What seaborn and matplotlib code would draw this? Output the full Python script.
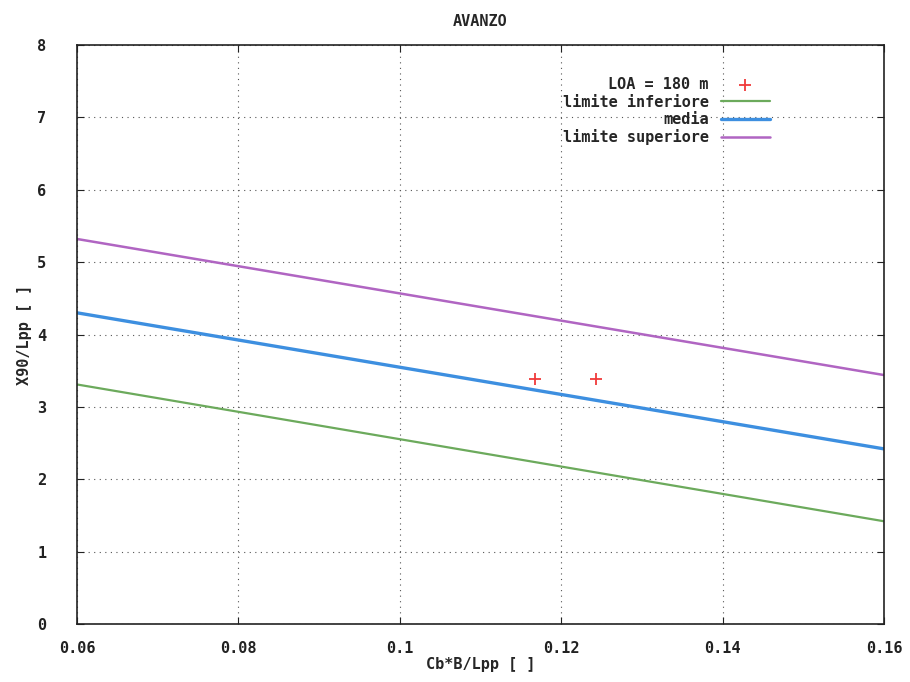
import matplotlib
matplotlib.use("Agg")
import matplotlib.pyplot as plt
import seaborn as sns
import pandas as pd

# dati
x_limiti = [0.06, 0.16]
limite_inferiore = [3.31, 1.42]
media = [4.30, 2.42]
limite_superiore = [5.32, 3.44]

loa_x = [0.1168, 0.1243]
loa_y = [3.38, 3.38]

sns.set_style("white")
plt.rcParams["font.family"] = ["DejaVu Sans Mono", "DejaVu Sans"]
plt.rcParams["font.weight"] = "bold"

fig = plt.figure(figsize=(9.1, 6.82), dpi=100)
ax = fig.add_axes([0.0846, 0.085, 0.8868, 0.849])

df_loa = pd.DataFrame({"x": loa_x, "y": loa_y})
sns.scatterplot(data=df_loa, x="x", y="y", marker="+", s=70, color="#f03a3a",
                linewidth=1.3, label="LOA = 180 m", ax=ax, zorder=5)

linee = [
    ("limite inferiore", limite_inferiore, "#6caa5c", 1.6),
    ("media", media, "#3d8fe0", 2.4),
    ("limite superiore", limite_superiore, "#b065c2", 1.8),
]
for nome, valori, colore, lw in linee:
    df = pd.DataFrame({"x": x_limiti, "y": valori})
    sns.lineplot(data=df, x="x", y="y", color=colore, linewidth=lw, label=nome, ax=ax)

ax.set_xlim(0.06, 0.16)
ax.set_ylim(0, 8)
ax.set_xticks([0.06, 0.08, 0.1, 0.12, 0.14, 0.16])
ax.set_xticklabels(["0.06", "0.08", "0.1", "0.12", "0.14", "0.16"])
ax.set_yticks(range(0, 9))
ax.grid(True, color="#555555", linestyle=(0, (1, 4)), linewidth=0.8)
for s in ax.spines.values():
    s.set_color("#222222")
    s.set_linewidth(1.2)
ax.tick_params(axis="both", direction="in", length=5, labelsize=11, colors="#222222",
               top=True, right=True, bottom=True, left=True)
ax.tick_params(axis="x", pad=12)
ax.tick_params(axis="y", pad=22)

ax.set_title("AVANZO", fontsize=11, fontweight="bold", pad=14)
ax.set_xlabel("Cb*B/Lpp [ ]", fontsize=11, fontweight="bold", labelpad=1)
ax.set_ylabel("X90/Lpp [ ]", fontsize=11, fontweight="bold", labelpad=4)

leg = ax.legend(loc="upper right", bbox_to_anchor=(0.87, 0.96), markerfirst=False,
                frameon=False, fontsize=11, handlelength=3.2, labelspacing=0.15,
                borderaxespad=0.2)
for t in leg.get_texts():
    t.set_ha("right")
    t.set_fontweight("bold")
leg._legend_box.align = "right"

fig.savefig("out.png", dpi=100)
